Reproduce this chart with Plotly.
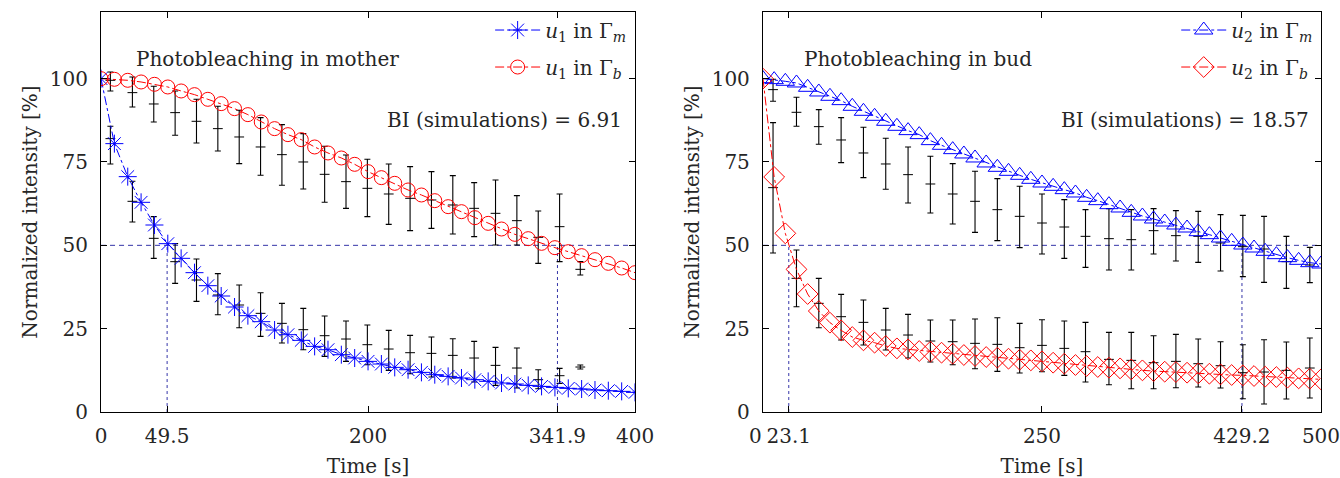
import plotly.graph_objects as go

# ---------------- Left panel: photobleaching in mother ----------------
t_sim_left = [0, 10, 20, 30, 40, 50, 60, 70, 80, 90, 100, 110, 120, 130, 140, 150, 160, 170, 180, 190,
              200, 210, 220, 230, 240, 250, 260, 270, 280, 290, 300, 310, 320, 330, 340, 350, 360, 370,
              380, 390, 400]
u1_mother = [100, 80.5, 70.6, 62.9, 56.1, 50.5, 46.1, 41.8, 37.9, 34.8, 31.5, 28.9, 27.1, 24.6, 23.2, 21.5,
             19.7, 18.7, 17.2, 16.2, 15.2, 14.4, 13.4, 12.7, 11.9, 11.2, 10.7, 10.2, 9.7, 9.2, 8.7, 8.4, 8.0,
             7.7, 7.4, 7.1, 6.9, 6.6, 6.4, 6.2, 5.9]
u1_bud = [100, 99.8, 99.5, 99.0, 98.3, 97.5, 96.3, 95.2, 93.8, 92.5, 91.0, 89.2, 87.0, 85.0, 83.2, 81.7,
          79.5, 77.7, 76.2, 74.3, 72.1, 70.3, 68.6, 66.6, 65.1, 63.4, 61.6, 60.1, 58.3, 56.6, 54.9, 53.3,
          52.0, 50.6, 49.3, 48.1, 46.9, 45.7, 44.6, 43.2, 41.8]

t_exp_left = [7, 23.5, 39.5, 55.5, 71.5, 87.5, 103.5, 119.5, 135.5, 151.5, 167.5, 183.5, 199.5, 215.5,
              231.5, 247.5, 263.5, 279.5, 295.5, 311.5, 327.5, 343.5, 359]
exp_left_upper_mid = [99.5, 95.8, 92.4, 89.8, 87.2, 85.0, 82.5, 79.5, 77.2, 75.0, 71.3, 69.1, 67.1, 65.4,
                      64.1, 63.6, 62.1, 61.1, 59.6, 57.4, 52.4, 55.6, 42.8]
exp_left_upper_hi = [102.0, 100.5, 97.7, 96.3, 93.8, 91.7, 90.5, 88.3, 86.2, 83.5, 79.7, 77.1, 75.8, 74.4,
                     73.6, 72.1, 70.9, 68.8, 69.6, 64.9, 60.3, 65.4, 45.1]
exp_left_upper_lo = [96.3, 91.5, 87.0, 83.0, 80.7, 78.3, 74.5, 71.0, 68.0, 66.9, 62.9, 61.1, 58.6, 56.3,
                     54.4, 55.1, 53.4, 52.6, 50.1, 50.1, 44.6, 45.1, 41.1]
exp_left_lower_mid = [82.0, 63.2, 52.1, 45.1, 39.6, 35.1, 32.1, 29.6, 26.6, 24.7, 22.9, 21.9, 20.2, 18.9,
                      17.8, 17.6, 17.0, 16.2, 14.0, 13.2, 9.7, 10.9, 13.5]
exp_left_lower_hi = [85.7, 69.2, 58.6, 50.5, 45.9, 41.5, 38.1, 35.8, 32.6, 31.1, 28.8, 27.3, 26.1, 24.5,
                     23.0, 22.5, 22.0, 21.2, 19.4, 19.2, 12.7, 13.1, 14.1]
exp_left_lower_lo = [74.4, 57.0, 46.1, 38.6, 33.2, 29.2, 25.3, 22.7, 20.7, 18.7, 16.7, 15.2, 14.2, 12.5,
                     11.5, 10.5, 10.2, 9.0, 8.0, 7.2, 7.0, 8.6, 12.9]
half_left = [49.5, 341.9]
bi_left = "6.91"
xticks_left = [0, 49.5, 200, 341.9, 400]
xlabels_left = ["0", "49.5", "200", "341.9", "400"]

# ---------------- Right panel: photobleaching in bud ----------------
t_sim_right = [0, 10, 20, 30, 40, 50, 60, 70, 80, 90, 100, 110, 120, 130, 140, 150, 160, 170, 180, 190,
               200, 210, 220, 230, 240, 250, 260, 270, 280, 290, 300, 310, 320, 330, 340, 350, 360, 370,
               380, 390, 400, 410, 420, 430, 440, 450, 460, 470, 480, 490, 500]
u2_mother = [100, 99.7, 99.2, 98.7, 97.4, 96.0, 94.7, 93.4, 91.7, 90.2, 88.7, 87.2, 85.7, 84.4, 83.2, 81.4,
             80.0, 78.7, 77.4, 76.2, 74.7, 73.4, 72.2, 71.0, 69.8, 68.7, 67.7, 66.7, 65.7, 64.4, 63.4, 62.2,
             61.2, 59.9, 58.8, 57.9, 57.0, 56.1, 55.2, 54.1, 53.2, 52.2, 51.2, 50.1, 49.2, 48.2, 47.2, 46.3,
             45.5, 44.8, 44.4]
u2_bud = [100, 70.5, 53.6, 42.8, 35.4, 30.3, 26.8, 24.5, 22.5, 21.5, 20.8, 19.8, 19.1, 18.8, 18.3, 18.1,
          17.8, 17.5, 17.1, 16.8, 16.5, 16.3, 16.0, 15.7, 15.5, 15.2, 14.8, 14.5, 14.1, 13.8, 13.5, 13.3,
          13.1, 12.8, 12.5, 12.3, 12.1, 12.0, 11.8, 11.6, 11.5, 11.3, 11.1, 11.0, 10.8, 10.6, 10.5, 10.3,
          10.1, 10.0, 9.8]

t_exp_right = [9, 30, 50, 70, 90, 110, 130, 150, 170, 190, 210, 230, 250, 270, 289, 310, 330, 350, 370,
               390, 410, 430, 449, 469, 490]
exp_right_upper_mid = [96.7, 89.9, 85.6, 81.6, 77.7, 74.4, 71.2, 68.4, 65.4, 63.2, 60.7, 58.7, 56.7, 55.5,
                       52.7, 52.0, 51.7, 54.4, 52.9, 52.7, 50.7, 49.6, 48.9, 45.1, 44.1]
exp_right_upper_hi = [99.8, 94.4, 90.7, 88.3, 85.4, 82.1, 79.5, 76.7, 74.5, 72.2, 70.0, 67.7, 65.4, 63.7,
                      60.7, 61.0, 60.7, 61.0, 60.4, 60.2, 59.2, 59.0, 58.7, 52.7, 49.4]
exp_right_upper_lo = [93.2, 85.7, 80.3, 74.8, 70.3, 66.8, 62.7, 59.7, 56.4, 53.9, 51.4, 49.3, 47.4, 46.1,
                      43.4, 42.6, 42.6, 47.4, 45.3, 44.9, 42.3, 40.6, 38.9, 37.1, 38.8]
exp_right_lower_mid = [67.3, 40.1, 32.6, 28.6, 26.9, 24.6, 23.1, 21.3, 21.1, 20.6, 20.3, 19.3, 20.0, 19.1,
                       18.1, 15.8, 15.5, 14.8, 15.2, 14.5, 13.9, 11.8, 12.0, 12.5, 13.2]
exp_right_lower_hi = [86.8, 48.6, 40.1, 35.3, 33.6, 31.1, 29.3, 27.6, 27.6, 27.9, 28.3, 26.6, 27.7, 27.3,
                      26.9, 23.9, 23.9, 22.9, 23.3, 21.9, 21.1, 20.2, 21.7, 21.0, 22.2]
exp_right_lower_lo = [47.7, 31.6, 25.3, 21.6, 20.1, 18.6, 16.2, 15.0, 14.2, 13.0, 12.2, 11.7, 12.1, 11.0,
                      9.0, 8.2, 7.0, 7.0, 7.3, 7.5, 7.2, 4.0, 2.4, 3.9, 4.2]
half_right = [23.1, 429.2]
bi_right = "18.57"
xticks_right = [0, 23.1, 250, 429.2, 500]
# the "0" label of the right panel is drawn as a slightly shifted annotation (it crowds "23.1")
xlabels_right = ["", "23.1", "250", "429.2", "500"]

yticks = [0, 25, 50, 75, 100]
half_level = 50

FONT = "DejaVu Serif"
TXT = "#262626"
BLUE = "#0000ff"
RED = "#ff0000"
HALF = "#3434a8"

fig = go.Figure()


def add_panel(xa, ya, xmax, t_exp, errsets, half, t_sim, s_m, s_b, sym_m, size_m, sym_b, size_b,
              name_m, name_b, legend):
    # half-life guide lines
    fig.add_trace(go.Scatter(x=[0, xmax], y=[half_level, half_level], mode="lines", xaxis=xa, yaxis=ya,
                             line=dict(color=HALF, width=1, dash="5px,4px"), showlegend=False,
                             hoverinfo="skip"))
    for h in half:
        fig.add_trace(go.Scatter(x=[h, h], y=[0, half_level], mode="lines", xaxis=xa, yaxis=ya,
                                 line=dict(color=HALF, width=1, dash="3px,3px"), showlegend=False,
                                 hoverinfo="skip"))
    # experimental error bars
    for mid, hi, lo in errsets:
        fig.add_trace(go.Scatter(
            x=t_exp, y=mid, mode="markers", xaxis=xa, yaxis=ya, showlegend=False,
            marker=dict(symbol="line-ew-open", size=7, color="black", line=dict(width=1, color="black")),
            error_y=dict(type="data", symmetric=False,
                         array=[h - m for h, m in zip(hi, mid)],
                         arrayminus=[m - l for m, l in zip(mid, lo)],
                         color="black", thickness=1.1, width=3)))
    # simulations
    fig.add_trace(go.Scatter(
        x=t_sim, y=s_m, mode="lines+markers", xaxis=xa, yaxis=ya, name=name_m, legend=legend,
        legendgroup=legend + "m",
        line=dict(color=BLUE, width=1, dash="dashdot"),
        marker=dict(symbol=sym_m, size=size_m, color=BLUE, line=dict(width=1, color=BLUE))))
    fig.add_trace(go.Scatter(
        x=t_sim, y=s_b, mode="lines+markers", xaxis=xa, yaxis=ya, name=name_b, legend=legend,
        legendgroup=legend + "b",
        line=dict(color=RED, width=1, dash="dashdot"),
        marker=dict(symbol=sym_b, size=size_b, color=RED, line=dict(width=1, color=RED))))


add_panel("x", "y", 400, t_exp_left,
          [(exp_left_upper_mid, exp_left_upper_hi, exp_left_upper_lo),
           (exp_left_lower_mid, exp_left_lower_hi, exp_left_lower_lo)],
          half_left, t_sim_left, u1_mother, u1_bud, "asterisk-open", 15, "circle-open", 14,
          "<i>u</i><sub>1</sub> in Γ<sub><i>m</i></sub>", "<i>u</i><sub>1</sub> in Γ<sub><i>b</i></sub>",
          "legend")
add_panel("x2", "y2", 500, t_exp_right,
          [(exp_right_upper_mid, exp_right_upper_hi, exp_right_upper_lo),
           (exp_right_lower_mid, exp_right_lower_hi, exp_right_lower_lo)],
          half_right, t_sim_right, u2_mother, u2_bud, "triangle-up-open", 16, "diamond-open", 16,
          "<i>u</i><sub>2</sub> in Γ<sub><i>m</i></sub>", "<i>u</i><sub>2</sub> in Γ<sub><i>b</i></sub>",
          "legend2")

axis_common = dict(showline=True, linecolor="black", linewidth=1.3, mirror="ticks", ticks="inside",
                   ticklen=6, tickwidth=1, tickcolor="black", showgrid=False, zeroline=False,
                   tickfont=dict(family=FONT, size=20, color=TXT), automargin=False, tickangle=0,
                   ticklabeloverflow="allow")

title_font = dict(family=FONT, size=20, color=TXT)

xaxis_extra = dict(ticklabelstandoff=6, title=dict(text="Time [s]", font=title_font, standoff=14))
yaxis_extra = dict(ticklabelstandoff=8,
                   title=dict(text="Normalized intensity [%]", font=title_font, standoff=6))

fig.update_layout(
    template="none",
    width=1340, height=478,
    margin=dict(l=0, r=0, t=0, b=0),
    paper_bgcolor="white", plot_bgcolor="white",
    font=dict(family=FONT, size=20, color=TXT),
    xaxis=dict(domain=[0.0754, 0.4739], range=[0, 400], tickvals=xticks_left,
               ticktext=xlabels_left, anchor="y", **xaxis_extra, **axis_common),
    yaxis=dict(domain=[0.138, 0.975], range=[0, 120], tickvals=yticks, anchor="x",
               **yaxis_extra, **axis_common),
    xaxis2=dict(domain=[0.5694, 0.9858], range=[0, 500], tickvals=xticks_right,
                ticktext=xlabels_right, anchor="y2", **xaxis_extra, **axis_common),
    yaxis2=dict(domain=[0.138, 0.975], range=[0, 120], tickvals=yticks, anchor="x2",
                **yaxis_extra, **axis_common),
    legend=dict(x=0.471, xanchor="right", y=0.978, yanchor="top", bgcolor="rgba(0,0,0,0)",
                font=dict(family=FONT, size=20, color=TXT), tracegroupgap=8, itemwidth=45),
    legend2=dict(x=0.983, xanchor="right", y=0.978, yanchor="top", bgcolor="rgba(0,0,0,0)",
                 font=dict(family=FONT, size=20, color=TXT), tracegroupgap=8, itemwidth=45),
    annotations=[
        dict(text="Photobleaching in mother", x=125, y=106, xref="x", yref="y", showarrow=False,
             xanchor="center", yanchor="middle", font=dict(family=FONT, size=20, color=TXT)),
        dict(text="BI (simulations) = " + bi_left, x=392, y=87.5, xref="x", yref="y", showarrow=False,
             xanchor="right", yanchor="middle", font=dict(family=FONT, size=20, color=TXT)),
        dict(text="Photobleaching in bud", x=139, y=106, xref="x2", yref="y2", showarrow=False,
             xanchor="center", yanchor="middle", font=dict(family=FONT, size=20, color=TXT)),
        dict(text="BI (simulations) = " + bi_right, x=491, y=87.5, xref="x2", yref="y2", showarrow=False,
             xanchor="right", yanchor="middle", font=dict(family=FONT, size=20, color=TXT)),
        dict(text="0", x=xticks_right[0], y=0, xref="x2", yref="y2", showarrow=False,
             xanchor="right", yanchor="top", xshift=0, yshift=-11, borderpad=0,
             font=dict(family=FONT, size=20, color=TXT)),
    ],
)

fig.write_html("out.html")
